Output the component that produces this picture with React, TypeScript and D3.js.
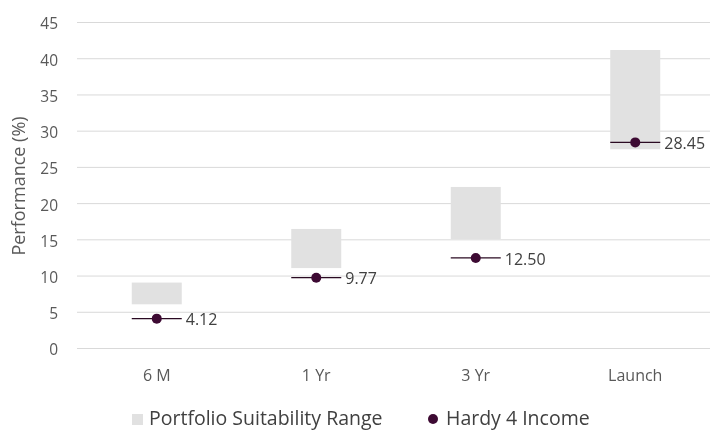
import React, { useEffect, useRef } from "react";
import * as d3 from "d3";

const categories = ["6 M", "1 Yr", "3 Yr", "Launch"];
const rangeLow = [6.1, 11.1, 15.1, 27.5];
const rangeHigh = [9.1, 16.5, 22.3, 41.2];
const fundValues = [4.12, 9.77, 12.5, 28.45];
const yTicks = [0, 5, 10, 15, 20, 25, 30, 35, 40, 45];

const FONT = "'Open Sans', sans-serif";

const App = () => {
  const ref = useRef<SVGSVGElement>(null);

  useEffect(() => {
    const width = 710;
    const height = 430;
    const svg = d3.select(ref.current);
    svg.selectAll("*").remove();
    svg.attr("width", width).attr("height", height).style("font-family", FONT);

    const x = d3.scaleBand().domain(categories).range([77, 715]);
    const y = d3.scaleLinear().domain([0, 45]).range([348.5, 22.5]);
    const barW = 50;
    const cx = (d: string) => x(d)! + x.bandwidth() / 2;

    // grid
    svg
      .append("g")
      .selectAll("line")
      .data(yTicks)
      .join("line")
      .attr("x1", 77)
      .attr("x2", 710)
      .attr("y1", (d) => y(d))
      .attr("y2", (d) => y(d))
      .attr("stroke", "#d9d9d9")
      .attr("stroke-width", 1);

    // y tick labels
    svg
      .append("g")
      .selectAll("text")
      .data(yTicks)
      .join("text")
      .attr("x", 58)
      .attr("y", (d) => y(d) + 1.5)
      .attr("dy", "0.35em")
      .attr("text-anchor", "end")
      .attr("font-size", 15.5)
      .attr("fill", "#595959")
      .text((d) => d);

    // axis title
    svg
      .append("text")
      .attr("transform", `translate(25,186) rotate(-90)`)
      .attr("text-anchor", "middle")
      .attr("font-size", 18)
      .attr("fill", "#595959")
      .text("Performance (%)");

    // x labels
    svg
      .append("g")
      .selectAll("text")
      .data(categories)
      .join("text")
      .attr("x", cx)
      .attr("y", 381)
      .attr("text-anchor", "middle")
      .attr("font-size", 16)
      .attr("fill", "#595959")
      .text((d) => d);

    // range bars
    svg
      .append("g")
      .selectAll("rect")
      .data(categories)
      .join("rect")
      .attr("x", (d) => cx(d) - barW / 2)
      .attr("y", (d, i) => y(rangeHigh[i]))
      .attr("width", barW)
      .attr("height", (d, i) => y(rangeLow[i]) - y(rangeHigh[i]))
      .attr("fill", "#e1e1e1");

    // fund markers
    const g = svg.append("g");
    g.selectAll("line")
      .data(categories)
      .join("line")
      .attr("x1", (d) => cx(d) - barW / 2)
      .attr("x2", (d) => cx(d) + barW / 2)
      .attr("y1", (d, i) => y(fundValues[i]))
      .attr("y2", (d, i) => y(fundValues[i]))
      .attr("stroke", "#2a0a22")
      .attr("stroke-width", 1.3);
    g.selectAll("circle")
      .data(categories)
      .join("circle")
      .attr("cx", cx)
      .attr("cy", (d, i) => y(fundValues[i]))
      .attr("r", 5)
      .attr("fill", "#3d0a33");
    g.selectAll("text")
      .data(categories)
      .join("text")
      .attr("x", (d) => cx(d) + barW / 2 + 4)
      .attr("y", (d, i) => y(fundValues[i]) + 1)
      .attr("dy", "0.35em")
      .attr("font-size", 16)
      .attr("fill", "#404040")
      .text((d, i) => fundValues[i].toFixed(2));

    // legend
    const lg = svg.append("g");
    lg.append("rect")
      .attr("x", 132)
      .attr("y", 414)
      .attr("width", 11)
      .attr("height", 11)
      .attr("fill", "#e1e1e1");
    lg.append("text")
      .attr("x", 149)
      .attr("y", 425)
      .attr("font-size", 19.5)
      .attr("fill", "#404040")
      .text("Portfolio Suitability Range");
    lg.append("circle")
      .attr("cx", 433)
      .attr("cy", 419)
      .attr("r", 5)
      .attr("fill", "#3d0a33");
    lg.append("text")
      .attr("x", 446)
      .attr("y", 425)
      .attr("font-size", 19.5)
      .attr("fill", "#404040")
      .text("Hardy 4 Income");
  }, []);

  return (
    <div style={{ position: "fixed", left: 0, top: 0 }}>
      <svg ref={ref}></svg>
    </div>
  );
};

export default App;
